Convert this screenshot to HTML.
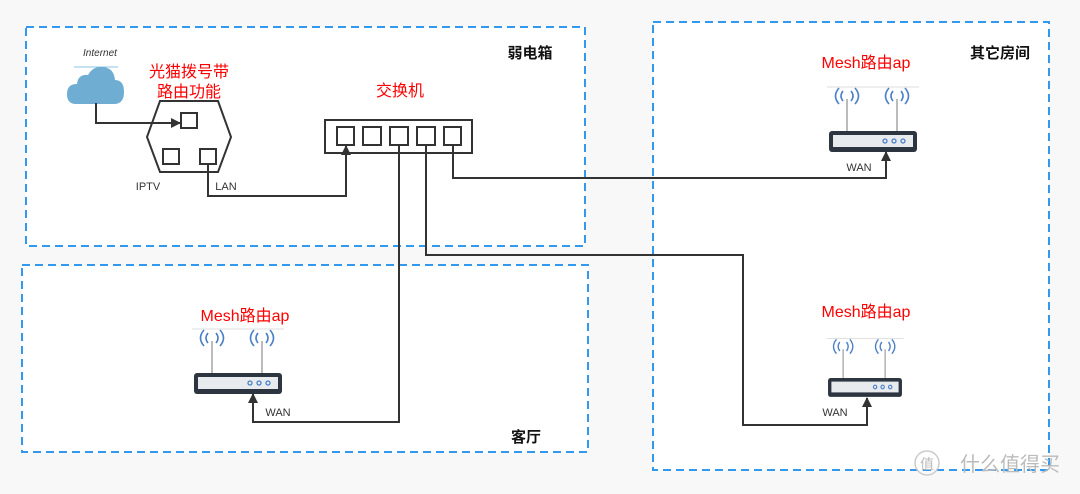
<!DOCTYPE html>
<html><head><meta charset="utf-8"><style>
html,body{margin:0;padding:0;background:#f8f8f8;}
svg{display:block}
text{font-family:"Liberation Sans","Noto Sans CJK SC",sans-serif;}
</style></head><body>
<svg width="1080" height="494" viewBox="0 0 1080 494" xmlns="http://www.w3.org/2000/svg">
<defs>
<marker id="ar" markerWidth="10" markerHeight="10" refX="9" refY="5" orient="auto" markerUnits="userSpaceOnUse">
<path d="M0,0 L10,5 L0,10 z" fill="#333"/>
</marker>
<g id="rt">
<line x1="-46" y1="-44" x2="46" y2="-44" stroke="#ddd" stroke-width="1"/>
<line x1="-26" y1="-32" x2="-26" y2="0" stroke="#bbb" stroke-width="2"/>
<line x1="24" y1="-32" x2="24" y2="0" stroke="#bbb" stroke-width="2"/>
<g fill="none" stroke="#4a7fc8" stroke-width="1.6">
<path d="M-30,-40 q-4,5 0,10 M-22,-40 q4,5 0,10 M-34,-43 q-7,8 0,16 M-18,-43 q7,8 0,16"/>
<path d="M20,-40 q-4,5 0,10 M28,-40 q4,5 0,10 M16,-43 q-7,8 0,16 M32,-43 q7,8 0,16"/>
</g>
<rect x="-44" y="0" width="88" height="21" rx="3" fill="#2d3540"/>
<rect x="-40" y="4" width="80" height="12" fill="#e8ebee"/>
<g fill="none" stroke="#4a7fc8" stroke-width="1.3"><circle cx="12" cy="10" r="2"/><circle cx="21" cy="10" r="2"/><circle cx="30" cy="10" r="2"/></g>
</g>
</defs>
<g fill="#fff" stroke="#3399ee" stroke-width="2" stroke-dasharray="8,5">
<rect x="26" y="27" width="559" height="219"/>
<rect x="22" y="265" width="566" height="187"/>
<rect x="653" y="22" width="396" height="448"/>
</g>
<text x="530" y="58" font-size="15" font-weight="bold" text-anchor="middle" fill="#111">弱电箱</text>
<text x="1000" y="58" font-size="15" font-weight="bold" text-anchor="middle" fill="#111">其它房间</text>
<text x="526" y="442" font-size="15" font-weight="bold" text-anchor="middle" fill="#111">客厅</text>
<text x="100" y="56" font-size="10" font-style="italic" text-anchor="middle" fill="#333">Internet</text>
<line x1="74" y1="67" x2="118" y2="67" stroke="#8ec3e6" stroke-width="1"/>
<path d="M76,104 q-9,0 -9,-10 q0,-10 10,-10 q1,-10 11,-9 q5,-9 15,-8 q11,1 12,13 q9,0 9,12 q0,12 -10,12 z" fill="#6fadd3"/>
<polygon points="160,101 218,101 231,137 218,172 160,172 147,137" fill="#fff" stroke="#333" stroke-width="2"/>
<rect x="181" y="113" width="16" height="15" fill="none" stroke="#333" stroke-width="2"/>
<rect x="163" y="149" width="16" height="15" fill="none" stroke="#333" stroke-width="2"/>
<rect x="200" y="149" width="16" height="15" fill="none" stroke="#333" stroke-width="2"/>
<text x="189" y="77" font-size="16" text-anchor="middle" fill="#f00">光猫拨号带</text>
<text x="189" y="97" font-size="16" text-anchor="middle" fill="#f00">路由功能</text>
<text x="148" y="190" font-size="11" text-anchor="middle" fill="#333">IPTV</text>
<text x="226" y="190" font-size="11" text-anchor="middle" fill="#333">LAN</text>
<text x="400" y="96" font-size="16" text-anchor="middle" fill="#f00">交换机</text>
<rect x="325" y="120" width="147" height="33" fill="#fff" stroke="#333" stroke-width="2"/>
<g fill="none" stroke="#333" stroke-width="2">
<rect x="337" y="127" width="17" height="18"/><rect x="363" y="127" width="18" height="18"/><rect x="390" y="127" width="18" height="18"/><rect x="417" y="127" width="18" height="18"/><rect x="444" y="127" width="17" height="18"/>
</g>
<g fill="none" stroke="#333" stroke-width="2">
<polyline points="96,103 96,123 180,123" marker-end="url(#ar)"/>
<polyline points="208,164 208,196 346,196 346,146" marker-end="url(#ar)"/>
<polyline points="399,145 399,422 253,422 253,394" marker-end="url(#ar)"/>
<polyline points="426,145 426,255 743,255 743,425 867,425 867,398" marker-end="url(#ar)"/>
<polyline points="453,145 453,178 886,178 886,152" marker-end="url(#ar)"/>
</g>
<use href="#rt" transform="translate(238,373)"/>
<use href="#rt" transform="translate(873,131)"/>
<use href="#rt" transform="translate(865,378) scale(0.84,0.9)"/>
<text x="245" y="321" font-size="16" text-anchor="middle" fill="#f00">Mesh路由ap</text>
<text x="866" y="68" font-size="16" text-anchor="middle" fill="#f00">Mesh路由ap</text>
<text x="866" y="317" font-size="16" text-anchor="middle" fill="#f00">Mesh路由ap</text>
<text x="278" y="416" font-size="11" text-anchor="middle" fill="#333">WAN</text>
<text x="859" y="171" font-size="11" text-anchor="middle" fill="#333">WAN</text>
<text x="835" y="416" font-size="11" text-anchor="middle" fill="#333">WAN</text>
<circle cx="927" cy="463" r="12" fill="none" stroke="#ccc" stroke-width="1.5"/>
<text x="927" y="469" font-size="14" text-anchor="middle" fill="#bbb">值</text>
<text x="1010" y="471" font-size="20" text-anchor="middle" fill="#bbb">什么值得买</text>
</svg>
</body></html>
